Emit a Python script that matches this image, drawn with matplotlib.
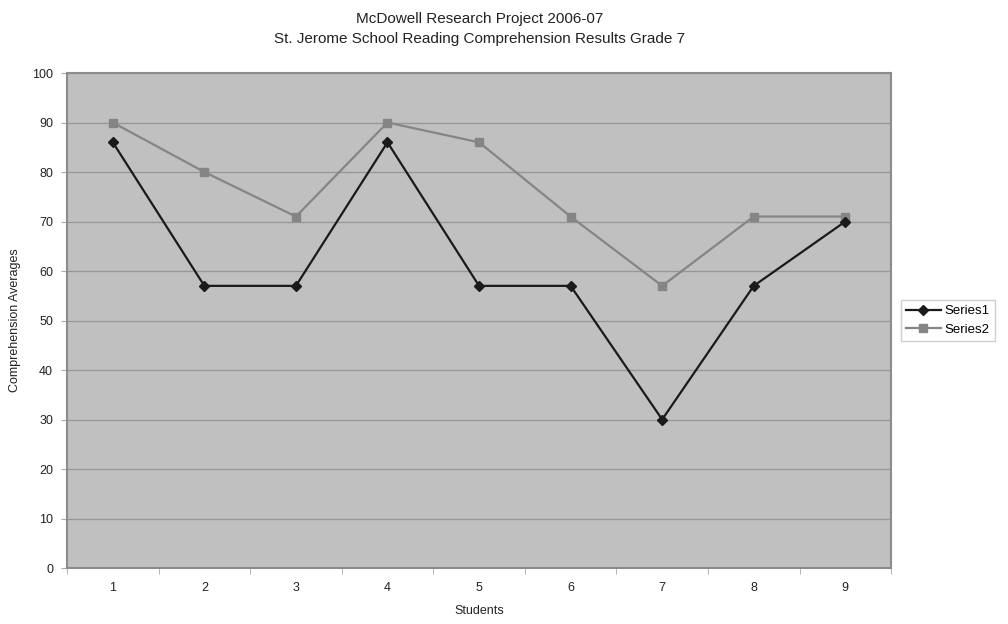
import numpy as np
import matplotlib
matplotlib.use("Agg")
import matplotlib.pyplot as plt

plt.rcParams["font.family"] = ["Liberation Sans", "DejaVu Sans"]

students = [1, 2, 3, 4, 5, 6, 7, 8, 9]
series1 = [86, 57, 57, 86, 57, 57, 30, 57, 70]
series2 = [90, 80, 71, 90, 86, 71, 57, 71, 71]
y_ticks = [0, 10, 20, 30, 40, 50, 60, 70, 80, 90, 100]

fig = plt.figure(figsize=(10.08, 6.24), dpi=100)
ax = fig.add_axes([0.0665, 0.0897, 0.8175, 0.7933])
ax.set_facecolor("#c0c0c0")

ax.plot(students, series1, color="#1a1a1a", linewidth=1.6, marker="D",
        markersize=5.5, label="Series1", zorder=4)
ax.plot(students, series2, color="#858585", linewidth=1.6, marker="s",
        markersize=6, label="Series2", zorder=3)

ax.set_xlim(0.5, 9.5)
ax.set_ylim(0, 100)
ax.set_yticks(y_ticks)
ax.set_xticks(students)
ax.set_xticks(np.arange(0.5, 10, 1), minor=True)
ax.tick_params(axis="x", which="major", length=0, labelsize=9, pad=10,
               colors="#222222")
ax.tick_params(axis="x", which="minor", length=4, color="#aaaaaa",
               direction="out")
ax.tick_params(axis="y", length=4, color="#aaaaaa", labelsize=9, pad=6,
               colors="#222222")
ax.yaxis.grid(True, color="#989898", linewidth=1.0)
ax.set_axisbelow(True)

for side, spine in ax.spines.items():
    spine.set_color("#8c8c8c")
    spine.set_linewidth(1.5)

ax.set_xlabel("Students", fontsize=9, color="#222222", labelpad=8)
ax.set_ylabel("Comprehension Averages", fontsize=9, color="#222222",
              labelpad=8)

fig.text(0.476, 0.981, "McDowell Research Project 2006-07", ha="center",
         va="top", fontsize=11, color="#222222")
fig.text(0.476, 0.949, "St. Jerome School Reading Comprehension Results Grade 7",
         ha="center", va="top", fontsize=11, color="#222222")

leg = ax.legend(loc="center left", bbox_to_anchor=(1.012, 0.5), fontsize=9.5,
                frameon=True, fancybox=False, handlelength=2.6,
                borderpad=0.4, labelspacing=0.5, handletextpad=0.3,
                borderaxespad=0)
leg.get_frame().set_edgecolor("#c4c4c4")
leg.get_frame().set_linewidth(1.0)

fig.savefig("out.png", dpi=100)
